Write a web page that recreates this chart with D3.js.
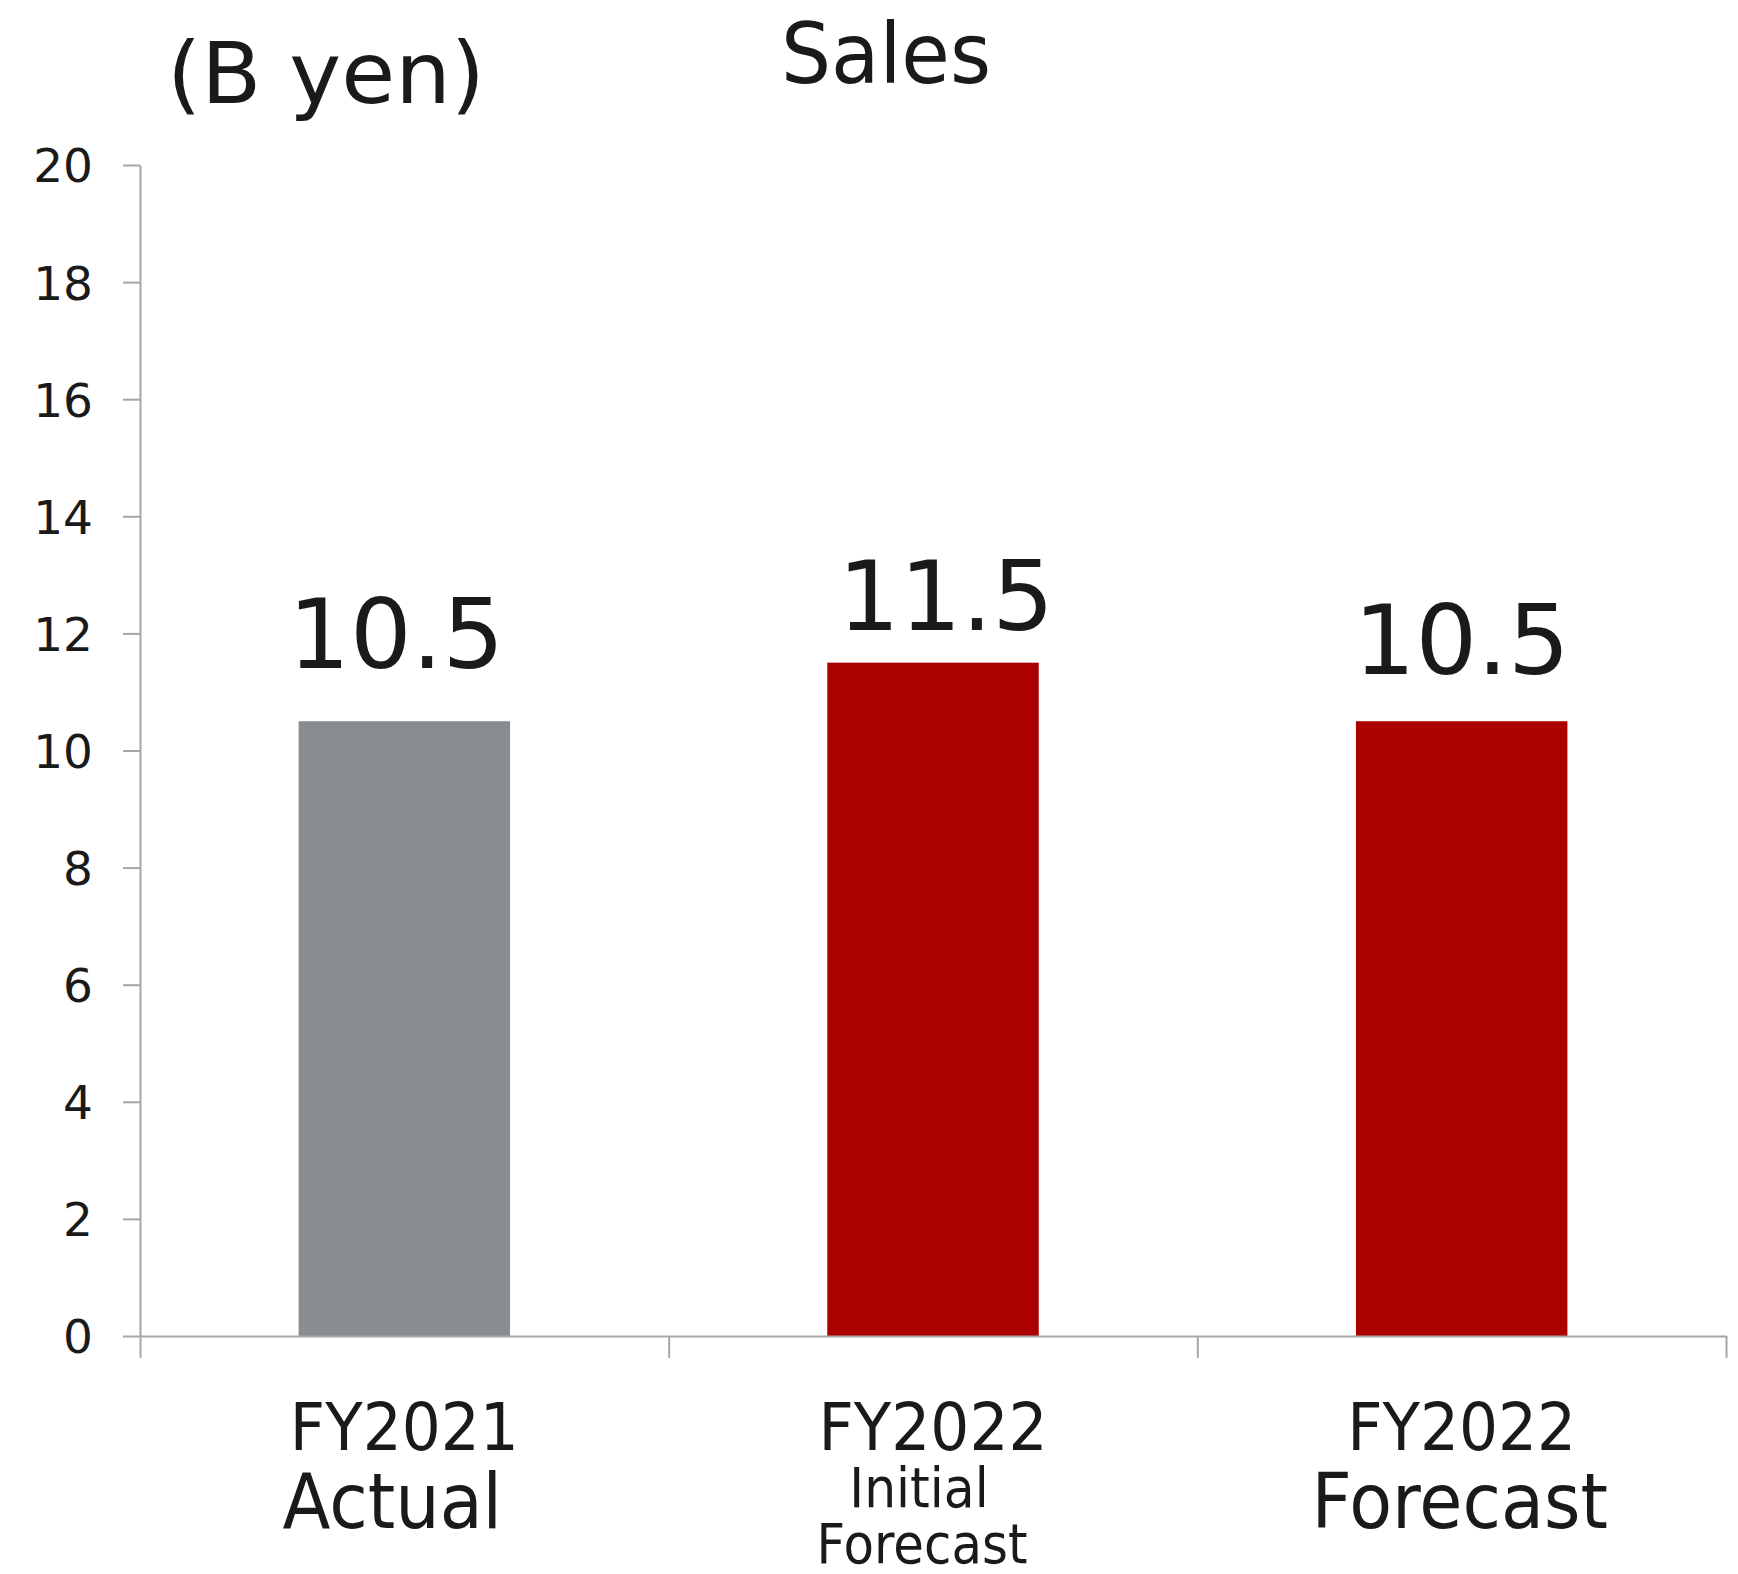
<!doctype html>
<meta charset="utf-8" />
<script src="https://cdn.jsdelivr.net/npm/d3@7/dist/d3.min.js"></script>
<style>
    body {
        margin: 0;
        background: white;
    }

    svg {
        display: block;
    }

    text {
        font-family: 'DejaVu Sans', Verdana, sans-serif;
        fill: #1a1a1a;
    }
</style>
<svg id="chart"></svg>
<script>
    // data
    var categories = ['FY2021 Actual', 'FY2022 Initial Forecast', 'FY2022 Forecast'];
    var values = [10.5, 11.5, 10.5];
    var barColors = ['#898d90', '#aa0000', '#aa0000'];
    var yTicks = [0, 2, 4, 6, 8, 10, 12, 14, 16, 18, 20];
    var catYear = ['FY2021', 'FY2022', 'FY2022'];
    var catKind = [['Actual'], ['Initial', 'Forecast'], ['Forecast']];

    var W = 1738, H = 1574;
    var plotL = 140, plotR = 1726, plotT = 165, plotB = 1336;

    var svg = d3.select('svg#chart')
        .attr('width', W)
        .attr('height', H);

    var y = d3.scaleLinear()
        .domain([0, 20])
        .range([plotB, plotT]);

    var x = d3.scaleBand()
        .domain(categories)
        .range([plotL, plotR])
        .padding(0);

    var edge = d3.scaleLinear()
        .domain([0, categories.length])
        .range([plotL, plotR]);

    // draws a text squeezed horizontally around its anchor
    function label(g, str, cx, by, size, sx, anchor) {
        return g.append('text')
            .attr('transform', 'translate(' + cx + ',' + by + ') scale(' + sx + ',1)')
            .attr('text-anchor', anchor || 'middle')
            .style('font-size', size + 'px')
            .text(str);
    }

    // bars
    var bw = x.bandwidth() * 0.4;
    svg.append('g')
        .selectAll('rect')
        .data(values)
        .enter()
        .append('rect')
        .attr('x', (d, i) => x(categories[i]) + (x.bandwidth() - bw) / 2)
        .attr('y', d => y(d))
        .attr('width', bw)
        .attr('height', d => y(0) - y(d))
        .attr('fill', (d, i) => barColors[i]);

    // axes
    var yAxis = svg.append('g')
        .attr('transform', 'translate(' + plotL + ',0)')
        .call(d3.axisLeft(y).tickValues(yTicks).tickSize(17).tickSizeOuter(0).tickPadding(30));
    yAxis.selectAll('text')
        .style('font-size', '47px')
        .attr('dy', '0.36em');

    var xAxis = svg.append('g')
        .attr('transform', 'translate(0,' + plotB + ')')
        .call(d3.axisBottom(edge).tickValues(d3.range(categories.length + 1)).tickSize(22).tickSizeOuter(0).tickFormat(''));

    svg.selectAll('.domain, .tick line')
        .attr('stroke', '#a6a6a6')
        .attr('stroke-width', 2);
    svg.selectAll('.tick text').attr('fill', '#1a1a1a');

    // value labels, nudged the way they sit in the picture
    var labelDx = [-8, 13, 0];
    var labelDy = [-53, -33, -47];
    var vals = svg.append('g');
    values.forEach(function (v, i) {
        var cx = x(categories[i]) + x.bandwidth() / 2;
        label(vals, d3.format('.1f')(v), cx + labelDx[i], y(v) + labelDy[i], 97, 1);
    });

    // category labels
    var cats = svg.append('g');
    categories.forEach(function (c, i) {
        var cx = x(c) + x.bandwidth() / 2;
        label(cats, catYear[i], cx, 1450, 66, 0.93);
        var kind = catKind[i];
        if (kind.length == 1) {
            label(cats, kind[0], cx + (i == 0 ? -12 : -2), 1528, 77, 0.91);
        } else {
            label(cats, kind[0], cx - 14, 1507, 56, 0.9);
            label(cats, kind[1], cx - 11, 1563, 56, 0.89);
        }
    });

    // title and unit
    label(svg, 'Sales', 886, 83, 84, 0.94);
    label(svg, '(B yen)', 326, 103, 86, 1.02);
</script>
